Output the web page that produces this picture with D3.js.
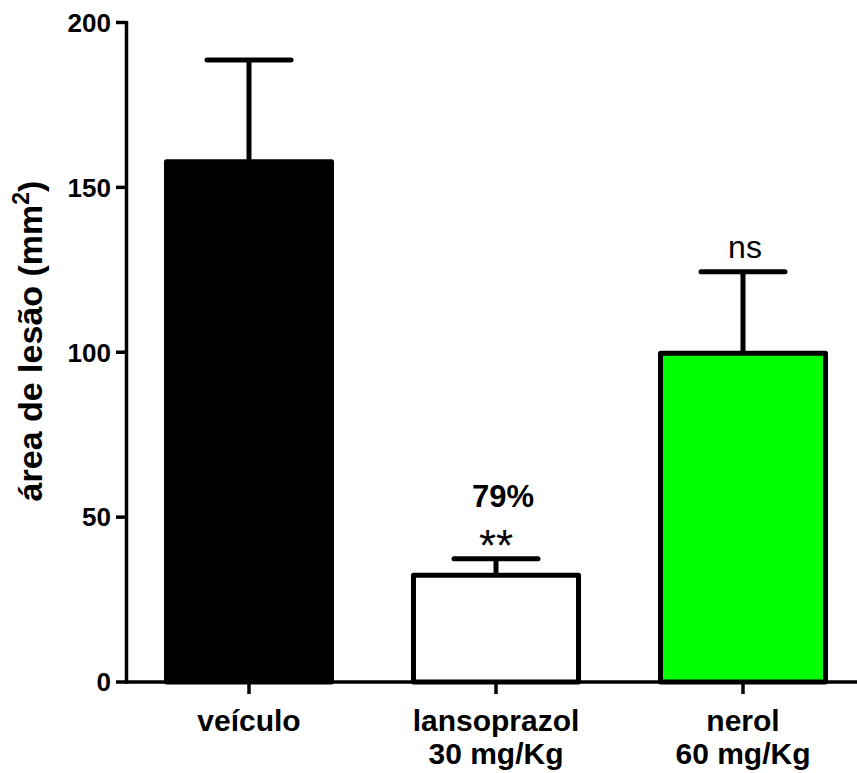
<!DOCTYPE html>
<html>
<head>
<meta charset="utf-8">
<script src="https://cdn.jsdelivr.net/npm/d3@7"></script>
<style>
  body { margin: 0; background: #fff; }
  text { font-family: "Liberation Sans", Arial, sans-serif; }
</style>
</head>
<body>
<script>
var categories = ["veículo", "lansoprazol", "nerol"];
var subLabels = ["", "30 mg/Kg", "60 mg/Kg"];
var means = [157.8, 32.4, 99.7];
var errors = [30.8, 5.0, 24.7];
var fills = ["#000000", "#ffffff", "#00ff00"];
var notes = [null, ["79%", "**"], ["ns"]];
var yTicks = [0, 50, 100, 150, 200];

var width = 857, height = 773;

var svg = d3.select("body").append("svg")
	.attr("width", width)
	.attr("height", height);

var y = d3.scaleLinear().domain([0, 200]).range([682, 22.5]);
var x = d3.scalePoint().domain(categories).range([249, 743]);
var bw = 165;
function cx(d) { return x(d); }

// y axis
var yAxis = svg.append("g");
yAxis.append("line")
	.attr("x1", 126.5).attr("x2", 126.5)
	.attr("y1", y(200) - 1.5).attr("y2", y(0) + 1.5)
	.attr("stroke", "#000").attr("stroke-width", 3.5);
yAxis.selectAll("line.tick").data(yTicks).enter().append("line")
	.attr("class", "tick")
	.attr("x1", 116).attr("x2", 126.5)
	.attr("y1", function(d) { return y(d); })
	.attr("y2", function(d) { return y(d); })
	.attr("stroke", "#000").attr("stroke-width", 3.5);
yAxis.selectAll("text").data(yTicks).enter().append("text")
	.attr("x", 111)
	.attr("y", function(d) { return y(d); })
	.attr("dy", "0.36em")
	.attr("text-anchor", "end")
	.attr("font-weight", "bold")
	.attr("font-size", 26)
	.text(function(d) { return d; });

// y title
svg.append("text")
	.attr("transform", "translate(42,341) rotate(-90)")
	.attr("text-anchor", "middle")
	.attr("font-weight", "bold")
	.attr("font-size", 34)
	.html('área de lesão (mm<tspan dy="-13" font-size="23">2</tspan><tspan dy="13">)</tspan>');

// bars
var bars = svg.append("g");
categories.forEach(function(c, i) {
	var xc = cx(c);
	var top = y(means[i]), capY = y(means[i] + errors[i]);
	bars.append("line")
		.attr("x1", xc).attr("x2", xc)
		.attr("y1", top).attr("y2", capY)
		.attr("stroke", "#000").attr("stroke-width", 5);
	bars.append("line")
		.attr("x1", xc - 42).attr("x2", xc + 42)
		.attr("y1", capY).attr("y2", capY)
		.attr("stroke", "#000").attr("stroke-width", 5)
		.attr("stroke-linecap", "round");
	bars.append("rect")
		.attr("x", xc - bw / 2)
		.attr("y", top)
		.attr("width", bw)
		.attr("height", y(0) - top)
		.attr("fill", fills[i])
		.attr("stroke", "#000")
		.attr("stroke-width", 5)
		.attr("stroke-linejoin", "round");
});

// x axis
svg.append("line")
	.attr("x1", 125).attr("x2", width)
	.attr("y1", y(0)).attr("y2", y(0))
	.attr("stroke", "#000").attr("stroke-width", 3.5);
svg.selectAll("line.xtick").data(categories).enter().append("line")
	.attr("class", "xtick")
	.attr("x1", cx).attr("x2", cx)
	.attr("y1", y(0)).attr("y2", y(0) + 12)
	.attr("stroke", "#000").attr("stroke-width", 3.5);

svg.selectAll("text.xlab").data(categories).enter().append("text")
	.attr("class", "xlab")
	.attr("x", cx)
	.attr("y", 731)
	.attr("text-anchor", "middle")
	.attr("font-weight", "bold")
	.attr("font-size", 30)
	.text(function(d) { return d; });
svg.selectAll("text.xsub").data(categories).enter().append("text")
	.attr("class", "xsub")
	.attr("x", cx)
	.attr("y", 764)
	.attr("text-anchor", "middle")
	.attr("font-weight", "bold")
	.attr("font-size", 30)
	.text(function(d, i) { return subLabels[i]; });

// annotations
var lx = cx(categories[1]);
svg.append("text")
	.attr("x", lx + 7).attr("y", 507)
	.attr("text-anchor", "middle")
	.attr("font-weight", "bold").attr("font-size", 31)
	.text(notes[1][0]);
svg.append("text")
	.attr("x", lx).attr("y", 561)
	.attr("text-anchor", "middle")
	.attr("font-size", 44)
	.text(notes[1][1]);
svg.append("text")
	.attr("x", cx(categories[2]) + 2).attr("y", 258)
	.attr("text-anchor", "middle")
	.attr("font-size", 32)
	.text(notes[2][0]);
</script>
</body>
</html>
